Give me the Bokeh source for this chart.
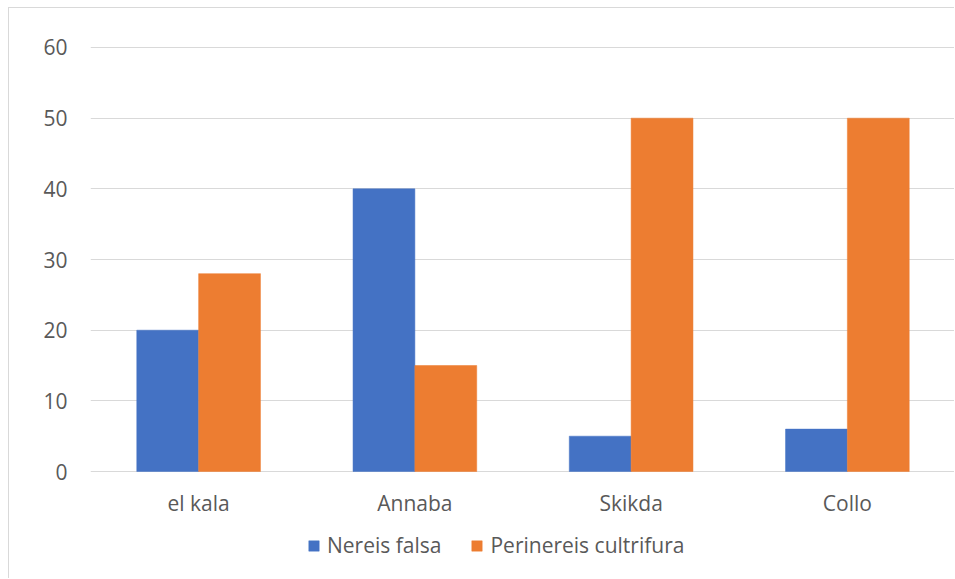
from bokeh.plotting import figure
from bokeh.models import (ColumnDataSource, FactorRange, Range1d, FixedTicker,
                          Legend, LegendItem)
from bokeh.core.properties import value
from bokeh.transform import dodge
from bokeh.embed import file_html
from bokeh.resources import INLINE

sites = ["el kala", "Annaba", "Skikda", "Collo"]
nereis_falsa = [20, 40, 5, 6]
perinereis_cultrifura = [28, 15, 50, 50]
series_names = ["Nereis falsa", "Perinereis cultrifura"]
y_ticks = [0, 10, 20, 30, 40, 50, 60]

source = ColumnDataSource(data=dict(site=sites, a=nereis_falsa, b=perinereis_cultrifura))

FONT = "Open Sans"
TXT = "#595959"
GRID = "#d9d9d9"

# frame spans from just above 60 down to the bottom of the canvas, so the
# category labels and legend sit inside the frame
p = figure(width=946, height=571, output_backend="svg", toolbar_location=None,
           x_range=FactorRange(factors=sites), y_range=Range1d(-15.28, 60.14),
           min_border_left=81, min_border_right=0, min_border_top=38,
           min_border_bottom=0)
# light chart-area border (left/top edges visible in the window)
p.styles = {"margin-left": "8px", "margin-top": "7px",
            "border-left": "1px solid #d9d9d9", "border-top": "1px solid #d9d9d9"}

bw = 0.286
r1 = p.vbar(x=dodge("site", -bw / 2, range=p.x_range), top="a", width=bw,
            source=source, fill_color="#4472C4", line_color="#4472C4", line_width=0.5)
r2 = p.vbar(x=dodge("site", bw / 2, range=p.x_range), top="b", width=bw,
            source=source, fill_color="#ED7D31", line_color="#ED7D31", line_width=0.5)

# category labels
p.text(x="site", y=-4.39, text="site", source=source, text_align="center",
       text_baseline="middle", text_font=value(FONT), text_font_size="21px",
       text_color=TXT)

p.outline_line_color = None
p.background_fill_color = "white"
p.border_fill_color = "white"

p.xgrid.grid_line_color = None
p.ygrid.grid_line_color = GRID
p.ygrid.grid_line_width = 1
p.yaxis.ticker = FixedTicker(ticks=y_ticks)
p.xaxis.visible = False

p.yaxis.axis_line_color = None
p.yaxis.major_tick_line_color = None
p.yaxis.minor_tick_line_color = None
p.yaxis.major_tick_out = 0
p.yaxis.major_label_standoff = 23
p.yaxis.major_label_text_font = FONT
p.yaxis.major_label_text_font_size = "21px"
p.yaxis.major_label_text_color = TXT

legend = Legend(items=[LegendItem(label=series_names[0], renderers=[r1]),
                       LegendItem(label=series_names[1], renderers=[r2])],
                orientation="horizontal", location=(217, 20),
                glyph_width=13, glyph_height=13, label_standoff=7, spacing=29,
                padding=0, margin=0, border_line_color=None,
                background_fill_alpha=0,
                label_text_font=FONT, label_text_font_size="21px",
                label_text_color=TXT)
p.add_layout(legend, "center")

open("out.html", "w").write(file_html(p, INLINE))
